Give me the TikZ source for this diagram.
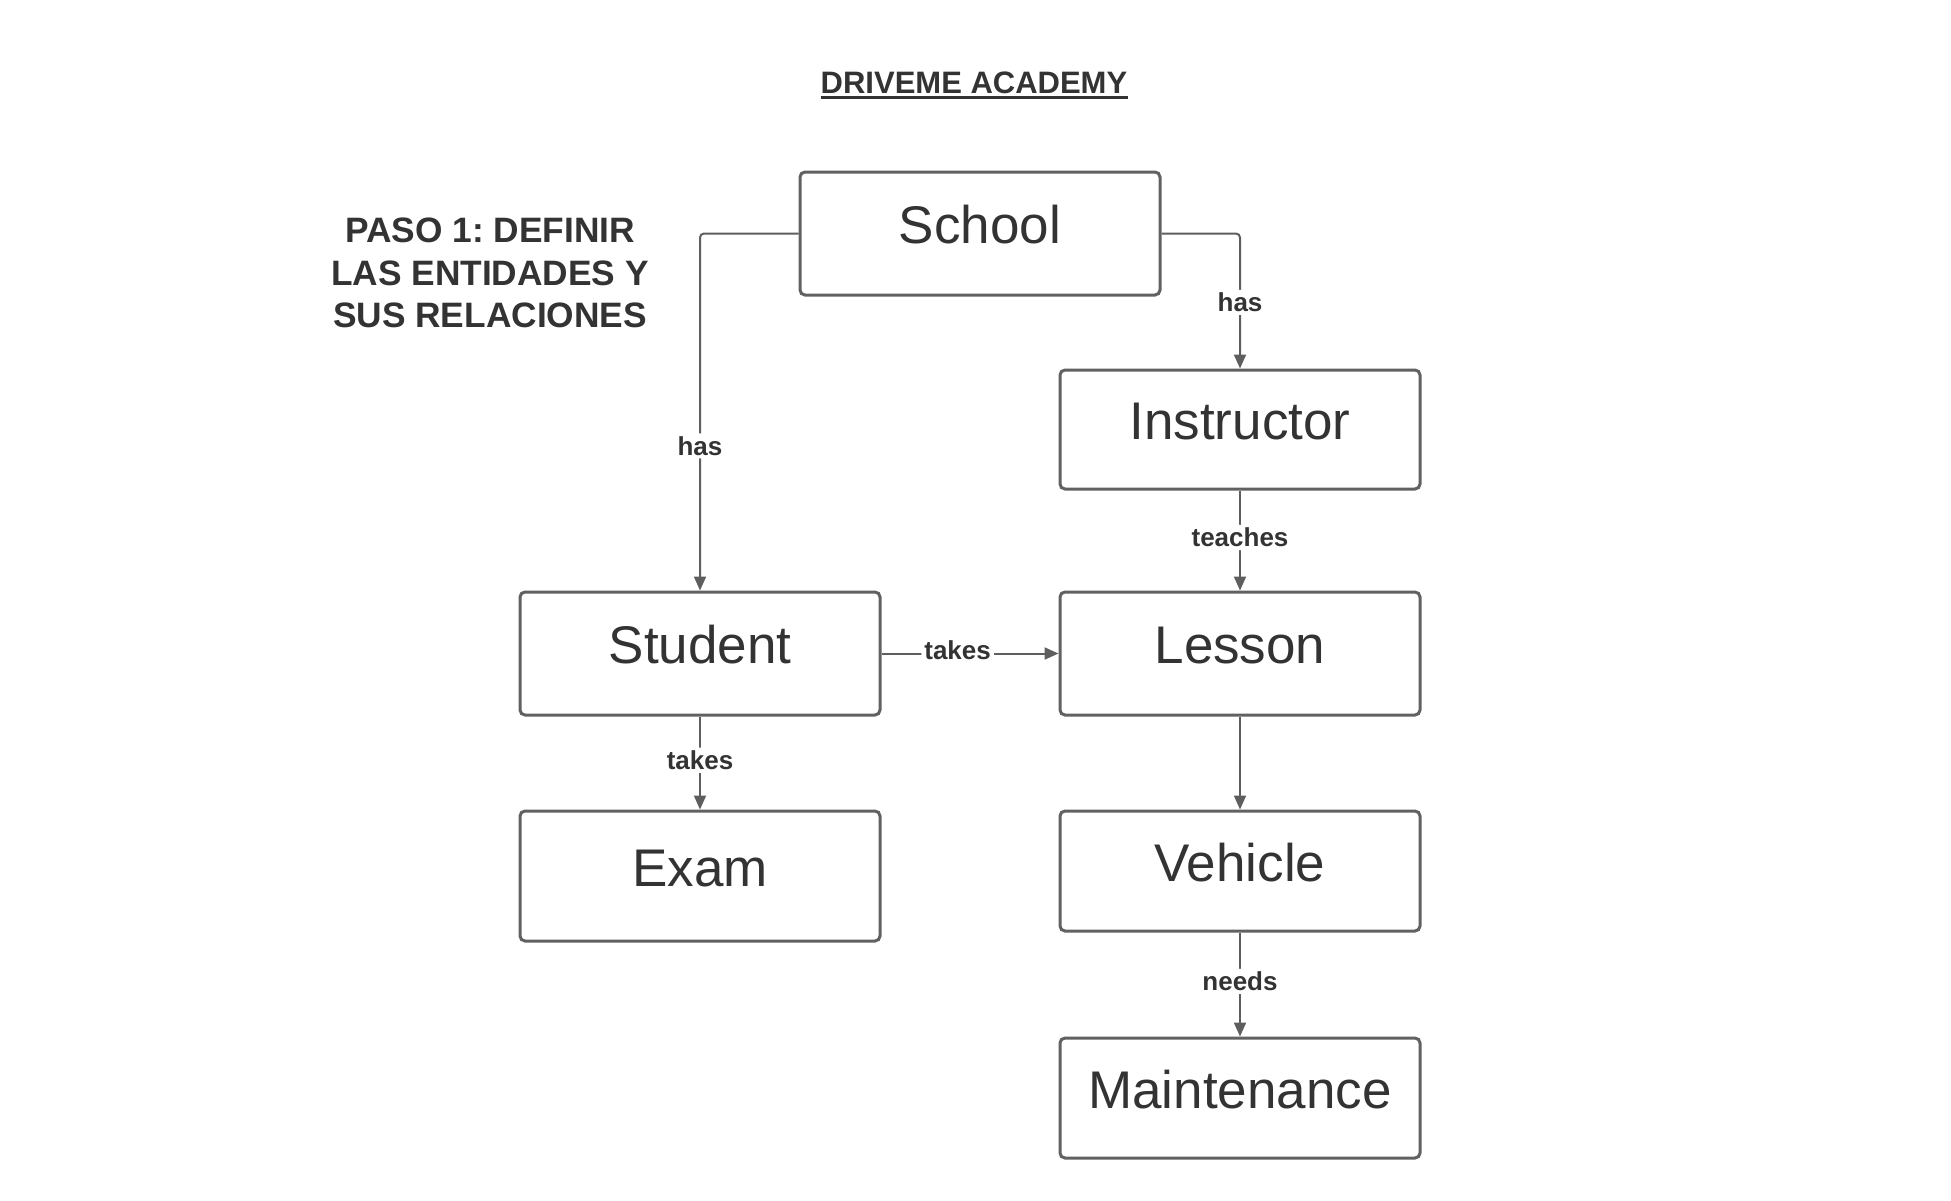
\documentclass[tikz,border=0pt]{standalone}
\usepackage{fontspec}
\setmainfont{Liberation Sans}
\usetikzlibrary{arrows.meta}
\definecolor{txt}{HTML}{333333}
\definecolor{boxc}{HTML}{616161}
\definecolor{linec}{HTML}{5E5E5E}
\frenchspacing
\begin{document}
\begin{tikzpicture}[x=1pt,y=-1pt,
  entity/.style={draw=boxc, line width=3pt, rounded corners=5pt, minimum width=360pt,
    inner sep=0pt, text=txt, text height=38pt, text depth=18pt, font=\fontsize{53}{60}\selectfont},
  conn/.style={draw=linec, line width=2pt, -{Triangle[length=14pt,width=12pt]}, rounded corners=4pt},
  lbl/.style={fill=white, text=txt, font=\bfseries\fontsize{26}{30}\selectfont, inner sep=3pt}]
\useasboundingbox[fill=white] (0,0) rectangle (1951,1200);

\node[anchor=base, inner sep=0pt, text=txt, font=\bfseries\fontsize{31}{36}\selectfont] (title) at (974,93.3) {DRIVEME ACADEMY};
\draw[txt, line width=2.5pt] ([yshift=-4pt]title.base west) -- ([yshift=-4pt]title.base east);

\node[align=center, inner sep=0pt, text=txt, font=\bfseries\fontsize{35.3}{42.5}\selectfont] (paso) at (490,273)
  {PASO 1: DEFINIR\\LAS ENTIDADES Y\\SUS RELACIONES};

\node[entity, minimum height=123pt] (school) at (980,233.5) {School};
\node[entity, minimum height=119pt] (instructor) at (1240,429.5) {Instructor};
\node[entity, minimum height=123pt] (student) at (700,653.5) {Student};
\node[entity, minimum height=123pt] (lesson) at (1240,653.5) {Lesson};
\node[entity, minimum height=130pt] (exam) at (700,876) {Exam};
\node[entity, minimum height=120pt] (vehicle) at (1240,871) {Vehicle};
\node[entity, minimum height=120pt] (maint) at (1240,1098) {Maintenance};

\draw[conn] (school.west) -| (student.north) node[lbl, pos=0.7975] {has};
\draw[conn] (school.east) -| (instructor.north) node[lbl, pos=0.755] {has};
\draw[conn] (instructor.south) -- (lesson.north) node[lbl, pos=0.47] {teaches};
\draw[conn] (student.east) -- (lesson.west) node[lbl, pos=0.43, yshift=3pt, inner ysep=1pt] {takes};
\draw[conn] (student.south) -- (exam.north) node[lbl, pos=0.47] {takes};
\draw[conn] (lesson.south) -- (vehicle.north);
\draw[conn] (vehicle.south) -- (maint.north) node[lbl, pos=0.47] {needs};
\end{tikzpicture}
\end{document}
